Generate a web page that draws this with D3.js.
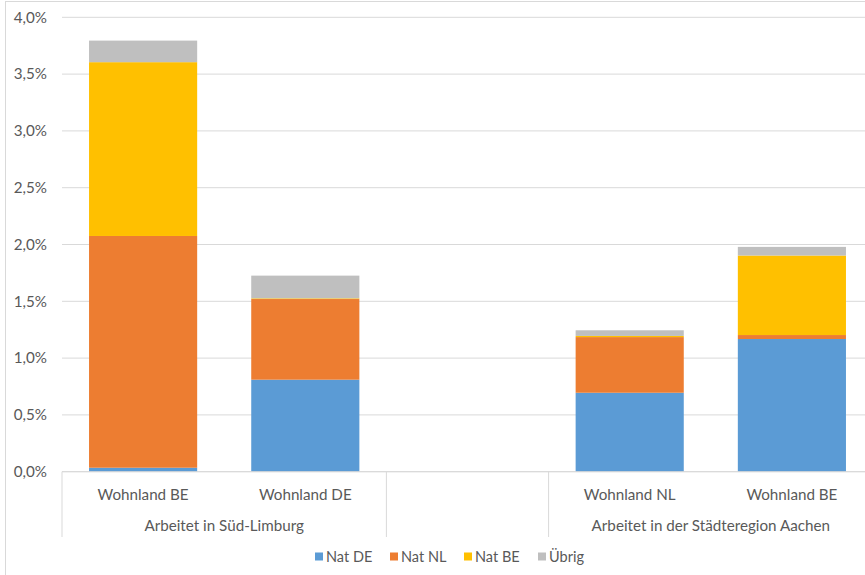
<!DOCTYPE html>
<html lang="de">
<head>
    <meta charset="UTF-8">
    <title>Anteil Grenzpendler</title>
    <script src="https://d3js.org/d3.v7.min.js"></script>
    <style>
        body { margin: 0; background: #fff; }
        #chart { width: 865px; height: 575px; display: block; }
        text { font-family: Lato, "Open Sans", sans-serif; fill: #595959; }
    </style>
</head>
<body>
    <svg id="chart"></svg>
    <script>
        // Werte in Prozent
        const categories = ["Wohnland BE", "Wohnland DE", "", "Wohnland NL", "Wohnland BE"];
        const groups = [
            { label: "Arbeitet in Süd-Limburg", from: 0, to: 1 },
            { label: "", from: 2, to: 2 },
            { label: "Arbeitet in der Städteregion Aachen", from: 3, to: 4 }
        ];
        const natDE = [0.035, 0.81, 0, 0.695, 1.168];
        const natNL = [2.04, 0.71, 0, 0.49, 0.035];
        const natBE = [1.53, 0.006, 0, 0.01, 0.70];
        const uebrig = [0.19, 0.2, 0, 0.05, 0.076];
        const seriesNames = ["Nat DE", "Nat NL", "Nat BE", "Übrig"];
        const colors = ["#5B9BD5", "#ED7D31", "#FFC000", "#BFBFBF"];
        const yTicks = [0, 0.5, 1, 1.5, 2, 2.5, 3, 3.5, 4];

        const svg = d3.select("#chart");
        const plotLeft = 62, plotRight = 873, plotTop = 17.3, plotBottom = 471.7;
        const fontSize = "15.2px";

        // Rahmen des Diagrammbereichs
        svg.append("rect")
            .attr("x", 5.5).attr("y", 1.5)
            .attr("width", 900).attr("height", 600)
            .attr("fill", "none").attr("stroke", "#D9D9D9");

        const x = d3.scaleBand()
            .domain(d3.range(categories.length))
            .range([plotLeft, plotRight])
            .paddingInner(1 / 3)
            .paddingOuter(1 / 6);

        const y = d3.scaleLinear().domain([0, 4]).range([plotBottom, plotTop]);

        // Gitternetz
        svg.selectAll("line.grid")
            .data(yTicks)
            .enter().append("line")
            .attr("class", "grid")
            .attr("x1", plotLeft).attr("x2", 865)
            .attr("y1", d => y(d)).attr("y2", d => y(d))
            .attr("stroke", "#D9D9D9").attr("stroke-width", 1);

        svg.selectAll("text.ytick")
            .data(yTicks)
            .enter().append("text")
            .attr("class", "ytick")
            .attr("x", 47)
            .attr("y", d => y(d))
            .attr("dy", "0.35em")
            .attr("text-anchor", "end")
            .attr("font-size", fontSize)
            .text(d => d3.format(".1f")(d).replace(".", ",") + "%");

        // gestapelte Balken
        const rows = categories.map((c, i) => ({
            i, "Nat DE": natDE[i], "Nat NL": natNL[i], "Nat BE": natBE[i], "Übrig": uebrig[i]
        }));
        const stack = d3.stack().keys(seriesNames)(rows);

        svg.selectAll("g.series")
            .data(stack)
            .enter().append("g")
            .attr("class", "series")
            .attr("fill", (d, k) => colors[k])
            .selectAll("rect")
            .data(d => d.filter(p => p[1] - p[0] > 0))
            .enter().append("rect")
            .attr("x", d => x(d.data.i))
            .attr("width", x.bandwidth())
            .attr("y", d => y(d[1]))
            .attr("height", d => y(d[0]) - y(d[1]));

        // Kategorienachse
        svg.append("line")
            .attr("x1", plotLeft).attr("x2", 865)
            .attr("y1", plotBottom).attr("y2", plotBottom)
            .attr("stroke", "#D9D9D9");

        const step = x.step();
        const bounds = [plotLeft].concat(groups.map(g => plotLeft + (g.to + 1) * step));
        svg.selectAll("line.sep")
            .data(bounds)
            .enter().append("line")
            .attr("class", "sep")
            .attr("x1", d => d).attr("x2", d => d)
            .attr("y1", plotBottom).attr("y2", 537)
            .attr("stroke", "#D9D9D9");

        svg.selectAll("text.cat")
            .data(categories)
            .enter().append("text")
            .attr("class", "cat")
            .attr("x", (d, i) => x(i) + x.bandwidth() / 2)
            .attr("y", 494.5)
            .attr("dy", "0.35em")
            .attr("text-anchor", "middle")
            .attr("font-size", fontSize)
            .text(d => d);

        svg.selectAll("text.group")
            .data(groups)
            .enter().append("text")
            .attr("class", "group")
            .attr("x", d => plotLeft + (d.from + d.to + 1) / 2 * step)
            .attr("y", 526)
            .attr("dy", "0.35em")
            .attr("text-anchor", "middle")
            .attr("font-size", fontSize)
            .text(d => d.label);

        // Legende
        const legendX = [315, 390, 464, 538];
        const legend = svg.selectAll("g.legend")
            .data(seriesNames)
            .enter().append("g")
            .attr("class", "legend")
            .attr("transform", (d, i) => `translate(${legendX[i]},556.5)`);
        legend.append("rect")
            .attr("x", 0).attr("y", -4)
            .attr("width", 8).attr("height", 8)
            .attr("fill", (d, i) => colors[i]);
        legend.append("text")
            .attr("x", 11)
            .attr("dy", "0.35em")
            .attr("font-size", "14.5px")
            .text(d => d);
    </script>
</body>
</html>
